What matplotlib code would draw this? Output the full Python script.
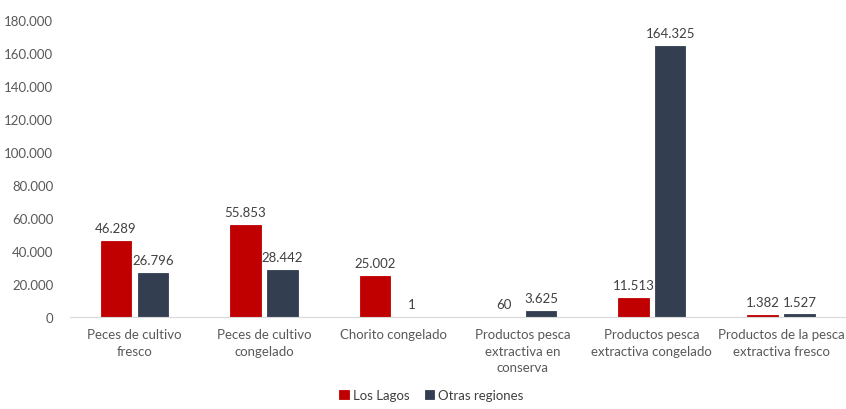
import matplotlib
matplotlib.use("Agg")
import matplotlib.pyplot as plt
import numpy as np
from matplotlib.ticker import FuncFormatter

categories = [
    "Peces de cultivo\nfresco",
    "Peces de cultivo\ncongelado",
    "Chorito congelado",
    "Productos pesca\nextractiva en\nconserva",
    "Productos pesca\nextractiva congelado",
    "Productos de la pesca\nextractiva fresco",
]
los_lagos = [46289, 55853, 25002, 60, 11513, 1382]
otras_regiones = [26796, 28442, 1, 3625, 164325, 1527]
yticks = list(range(0, 180001, 20000))

RED = "#C00000"
DARK = "#333F50"
GRAY = "#595959"


def fmt_es(v):
    return f"{int(round(v)):,}".replace(",", ".")


plt.rcParams["font.family"] = ["Lato", "DejaVu Sans"]

fig = plt.figure(figsize=(8.46, 4.10), dpi=100)
ax = fig.add_axes([0.0827, 0.2244, 0.917, 0.7244])

x = np.arange(len(categories))
w = 0.235
off = 0.143
# thin edge in the fill colour so the near-zero bars still show as a line
b1 = ax.bar(x - off, los_lagos, w, color=RED, edgecolor=RED, linewidth=0.6, label="Los Lagos")
b2 = ax.bar(x + off, otras_regiones, w, color=DARK, edgecolor=DARK, linewidth=0.6,
            label="Otras regiones")

for bars, vals in ((b1, los_lagos), (b2, otras_regiones)):
    for bar, v in zip(bars, vals):
        ax.annotate(fmt_es(v), (bar.get_x() + bar.get_width() / 2, v),
                    xytext=(0, 5), textcoords="offset points",
                    ha="center", va="bottom", fontsize=9.5, color="#404040")

ax.set_xlim(-0.5, len(categories) - 0.5)
ax.set_ylim(0, 180000)
ax.set_yticks(yticks)
ax.yaxis.set_major_formatter(FuncFormatter(lambda v, p: fmt_es(v)))
ax.set_xticks(x)
ax.set_xticklabels(categories, fontsize=9.5, color=GRAY, linespacing=1.45)
ax.tick_params(axis="y", labelsize=9.5, labelcolor=GRAY, length=0, pad=12)
ax.tick_params(axis="x", length=0, pad=8)

for s in ("top", "right", "left"):
    ax.spines[s].set_visible(False)
ax.spines["bottom"].set_color("#D9D9D9")

fig.legend(loc="lower center", bbox_to_anchor=(0.51, -0.01), ncol=2, frameon=False,
           fontsize=9.5, handlelength=0.7, handleheight=0.7, handletextpad=0.3,
           columnspacing=1.2, labelcolor="#404040")

fig.savefig("out.png", dpi=100)
